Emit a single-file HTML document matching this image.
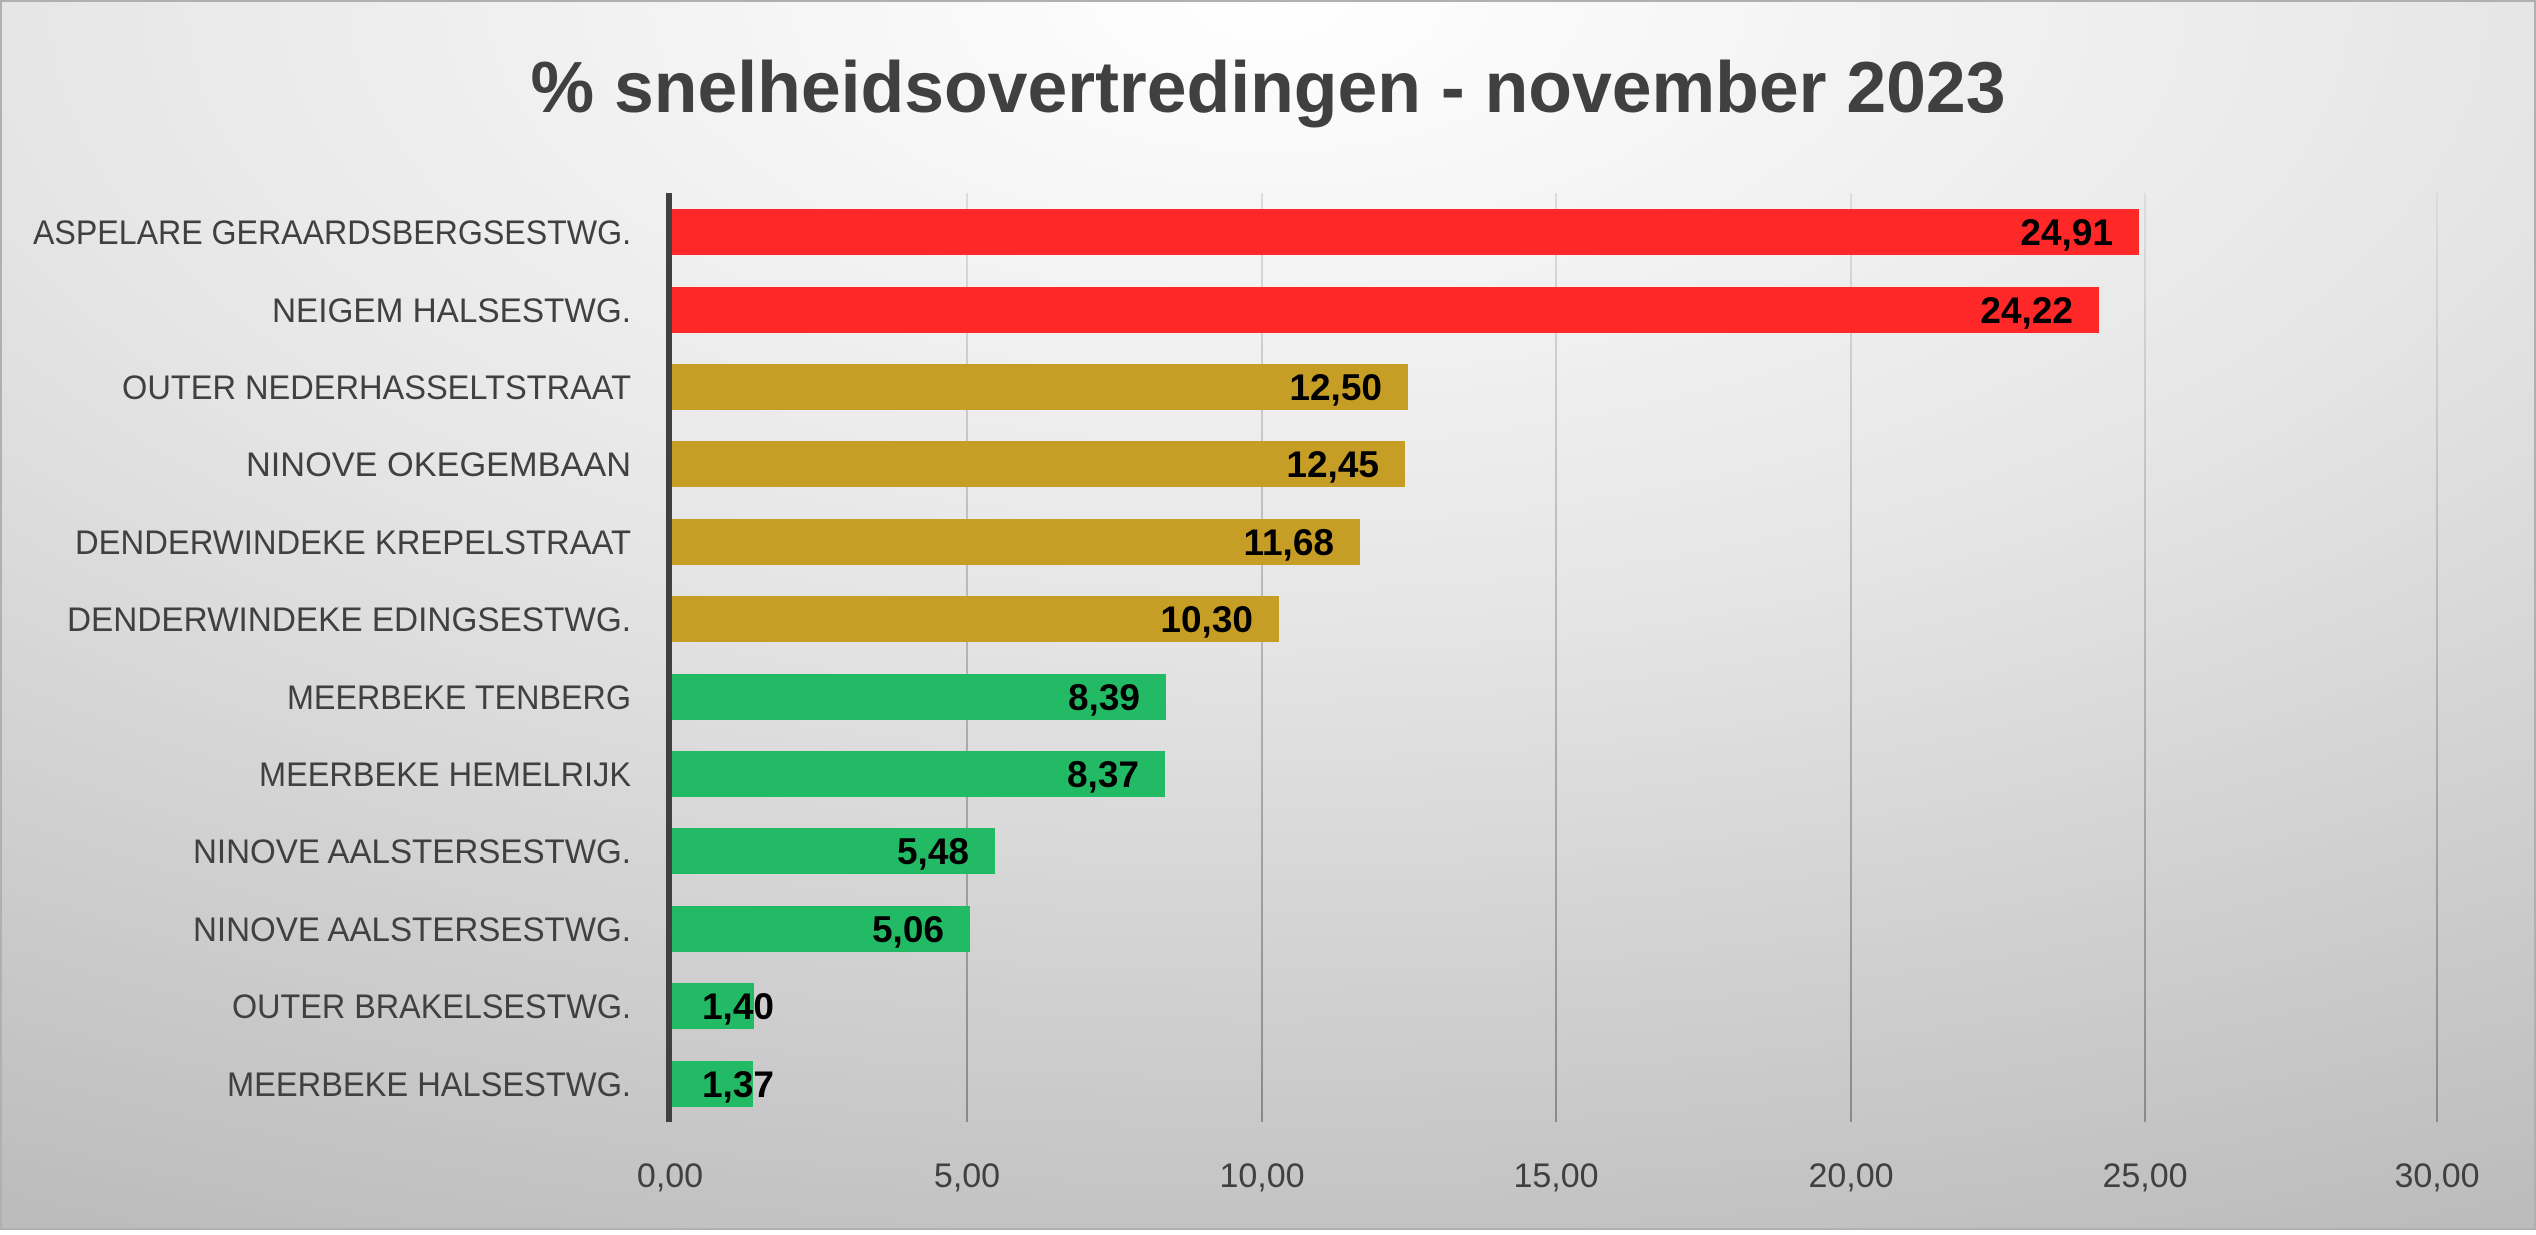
<!DOCTYPE html>
<html><head><meta charset="utf-8"><style>html,body{margin:0;padding:0}body{width:2536px;height:1230px;overflow:hidden}</style></head>
<body>
<svg width="2536" height="1230" xmlns="http://www.w3.org/2000/svg" font-family="Liberation Sans, sans-serif">
<defs>
<radialGradient id="bg" cx="0.5" cy="0" r="1.1">
<stop offset="0" stop-color="#ffffff"/><stop offset="0.45" stop-color="#e6e6e6"/><stop offset="1" stop-color="#bcbcbc"/></radialGradient>
<linearGradient id="gl" x1="0" y1="0" x2="0" y2="1"><stop offset="0" stop-color="#dcdcdc"/><stop offset="1" stop-color="#8a8a8a"/></linearGradient>
</defs>
<rect x="0" y="0" width="2536" height="1230" fill="url(#bg)"/>
<rect x="1" y="1" width="2534" height="1228" fill="none" stroke="#b0b0b0" stroke-width="2"/>
<text x="1268" y="112" text-anchor="middle" font-size="72" font-weight="bold" fill="#404040" textLength="1475" lengthAdjust="spacingAndGlyphs">% snelheidsovertredingen - november 2023</text>
<g fill="url(#gl)">
<rect x="966" y="193" width="2" height="929"/><rect x="1261" y="193" width="2" height="929"/><rect x="1555" y="193" width="2" height="929"/><rect x="1850" y="193" width="2" height="929"/><rect x="2144" y="193" width="2" height="929"/><rect x="2436" y="193" width="2" height="929"/>
</g>
<g>
<rect x="672" y="209" width="1467" height="46" fill="#ff2828"/>
<rect x="672" y="287" width="1427" height="46" fill="#ff2828"/>
<rect x="672" y="364" width="736" height="46" fill="#c69e26"/>
<rect x="672" y="441" width="733" height="46" fill="#c69e26"/>
<rect x="672" y="519" width="688" height="46" fill="#c69e26"/>
<rect x="672" y="596" width="607" height="46" fill="#c69e26"/>
<rect x="672" y="674" width="494" height="46" fill="#23ba66"/>
<rect x="672" y="751" width="493" height="46" fill="#23ba66"/>
<rect x="672" y="828" width="323" height="46" fill="#23ba66"/>
<rect x="672" y="906" width="298" height="46" fill="#23ba66"/>
<rect x="672" y="983" width="82" height="46" fill="#23ba66"/>
<rect x="672" y="1061" width="81" height="46" fill="#23ba66"/>
</g>
<rect x="666" y="193" width="6" height="929" fill="#404040"/>
<g font-size="37" font-weight="bold" fill="#000" text-anchor="end">
<text x="2113" y="245">24,91</text>
<text x="2073" y="323">24,22</text>
<text x="1382" y="400">12,50</text>
<text x="1379" y="477">12,45</text>
<text x="1334" y="555">11,68</text>
<text x="1253" y="632">10,30</text>
<text x="1140" y="710">8,39</text>
<text x="1139" y="787">8,37</text>
<text x="969" y="864">5,48</text>
<text x="944" y="942">5,06</text>
<text x="774" y="1019">1,40</text>
<text x="774" y="1097">1,37</text>
</g>
<g font-size="34" fill="#404040" text-anchor="end">
<text x="631" y="244" textLength="598" lengthAdjust="spacingAndGlyphs">ASPELARE GERAARDSBERGSESTWG.</text>
<text x="631" y="322" textLength="359" lengthAdjust="spacingAndGlyphs">NEIGEM HALSESTWG.</text>
<text x="631" y="399" textLength="509" lengthAdjust="spacingAndGlyphs">OUTER NEDERHASSELTSTRAAT</text>
<text x="631" y="476" textLength="385" lengthAdjust="spacingAndGlyphs">NINOVE OKEGEMBAAN</text>
<text x="631" y="554" textLength="556" lengthAdjust="spacingAndGlyphs">DENDERWINDEKE KREPELSTRAAT</text>
<text x="631" y="631" textLength="564" lengthAdjust="spacingAndGlyphs">DENDERWINDEKE EDINGSESTWG.</text>
<text x="631" y="709" textLength="344" lengthAdjust="spacingAndGlyphs">MEERBEKE TENBERG</text>
<text x="631" y="786" textLength="372" lengthAdjust="spacingAndGlyphs">MEERBEKE HEMELRIJK</text>
<text x="631" y="863" textLength="438" lengthAdjust="spacingAndGlyphs">NINOVE AALSTERSESTWG.</text>
<text x="631" y="941" textLength="438" lengthAdjust="spacingAndGlyphs">NINOVE AALSTERSESTWG.</text>
<text x="631" y="1018" textLength="399" lengthAdjust="spacingAndGlyphs">OUTER BRAKELSESTWG.</text>
<text x="631" y="1096" textLength="404" lengthAdjust="spacingAndGlyphs">MEERBEKE HALSESTWG.</text>
</g>
<g font-size="34" fill="#404040" text-anchor="middle">
<text x="670" y="1187">0,00</text>
<text x="967" y="1187">5,00</text>
<text x="1262" y="1187">10,00</text>
<text x="1556" y="1187">15,00</text>
<text x="1851" y="1187">20,00</text>
<text x="2145" y="1187">25,00</text>
<text x="2437" y="1187">30,00</text>
</g>
</svg>
</body></html>
